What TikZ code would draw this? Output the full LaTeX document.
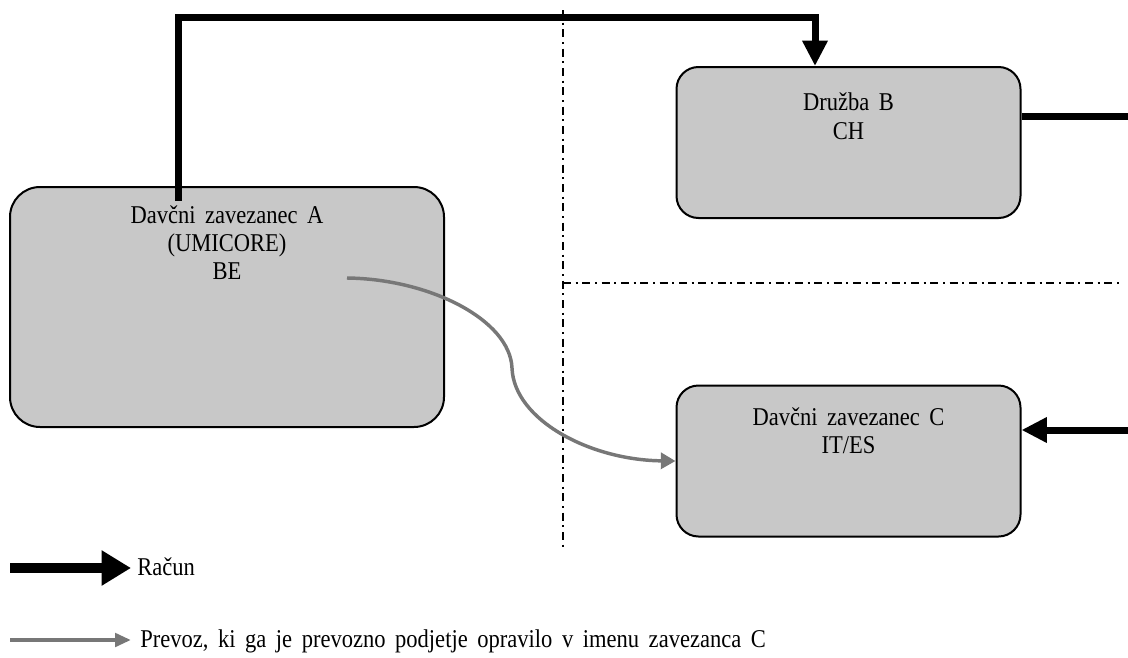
\documentclass[tikz,border=0pt]{standalone}
\usepackage{fontspec}
\setmainfont{Liberation Serif}[FakeStretch=0.88,WordSpace=1.7]
\usetikzlibrary{arrows.meta}
\definecolor{boxgray}{HTML}{C8C8C8}
\definecolor{tgray}{HTML}{777777}
\begin{document}
\begin{tikzpicture}[x=0.75pt,y=-0.75pt,
  box/.style={draw=black,line width=1.5pt,fill=boxgray,inner sep=0pt},
  txt/.style={font=\fontsize{19.2}{22}\selectfont,inner sep=0pt,anchor=base},
  bill/.style={draw=black,line width=5.25pt,-{Triangle[length=19pt,width=18pt]}},
  billline/.style={draw=black,line width=5.25pt},
  transport/.style={draw=tgray,line width=2.6pt,-{Triangle[length=11pt,width=12pt]}},
  legbill/.style={draw=black,line width=7.5pt,-{Triangle[length=22pt,width=25pt]}},
  legtransport/.style={draw=tgray,line width=3pt,-{Triangle[length=12pt,width=10pt]}},
  divider/.style={draw=black,line width=1.6pt,dash pattern=on 6pt off 3.5pt on 1.5pt off 3.5pt}
]
\useasboundingbox (0,0) rectangle (1128,657);

% dividers
\coordinate (v1) at (563,10);
\coordinate (v2) at (563,548);
\coordinate (h1) at (563,283);
\coordinate (h2) at (1120,283);
\draw[divider] (v1) -- (v2);
\draw[divider] (h1) -- (h2);

% boxes
\node[box,rounded corners=22.5pt,minimum width=325.5pt,minimum height=180pt] (A) at (227,307) {};
\node[box,rounded corners=16.5pt,minimum width=258pt,minimum height=113.25pt] (B) at (848.5,142.5) {};
\node[box,rounded corners=16.5pt,minimum width=258pt,minimum height=113.25pt] (C) at (848.5,461) {};

% texts
\node[txt] (A1) at (227,223) {Davčni zavezanec A};
\node[txt] (A2) at (227,251) {(UMICORE)};
\node[txt] (A3) at (227,279) {BE};
\node[txt] (B1) at (848.5,110) {Družba B};
\node[txt] (B2) at (848.5,139) {CH};
\node[txt] (C1) at (848.5,425) {Davčni zavezanec C};
\node[txt] (C2) at (848.5,453) {IT/ES};

% invoice lines
\coordinate (c1) at (178,17);
\coordinate (c2) at (815,17);
\coordinate (c3) at (1128,116);
\coordinate (c4) at (1128,430);
\draw[bill] ([yshift=-11pt]A.north -| c1) -- (c1) -- (c2) -- (B.north -| c2);
\draw[billline] (B.east |- c3) -- (c3);
\draw[bill] (c4) -- (C.east |- c4);

% transport
\coordinate (s) at (347,278);
\coordinate (k) at (512,368);
\draw[transport] (s) .. controls (430,279) and (510,320) .. (k)
  .. controls (514,420) and (590,460) .. (C.west);

% legend
\coordinate (l1s) at (10,568);
\coordinate (l1e) at (131,568);
\coordinate (l2s) at (10,640);
\coordinate (l2e) at (131,640);
\draw[legbill] (l1s) -- (l1e);
\draw[legtransport] (l2s) -- (l2e);
\node[txt,anchor=base west] (L1) at (137,575) {Račun};
\node[txt,anchor=base west] (L2) at (140,647) {Prevoz, ki ga je prevozno podjetje opravilo v imenu zavezanca C};
\end{tikzpicture}
\end{document}
